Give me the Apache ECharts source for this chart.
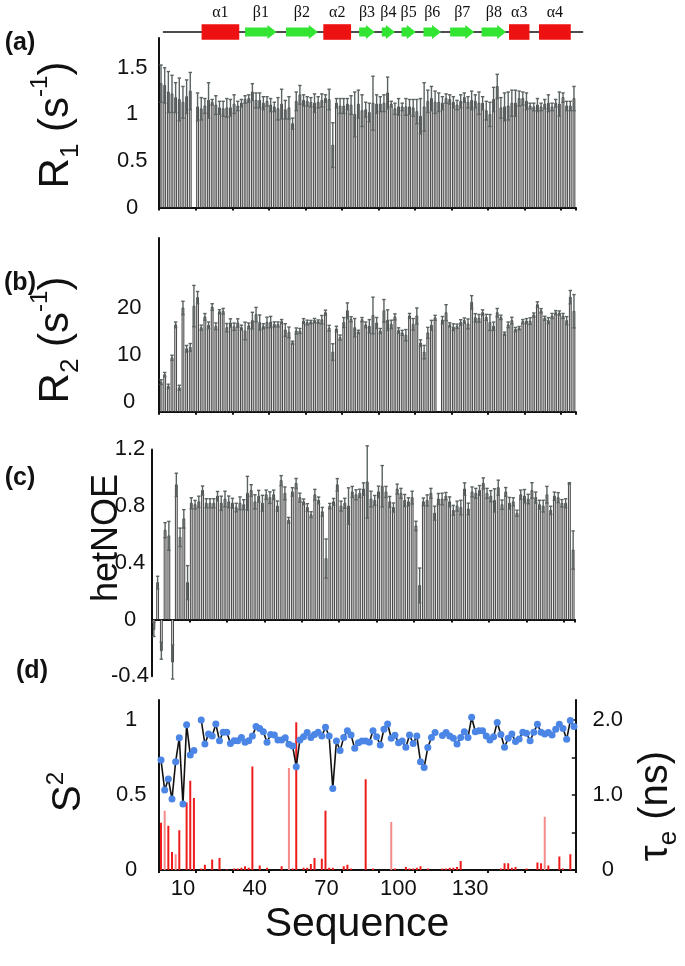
<!DOCTYPE html>
<html><head><meta charset="utf-8">
<script src="https://cdn.jsdelivr.net/npm/echarts@6/dist/echarts.min.js"></script>
<style>html,body{margin:0;padding:0;background:#fff}#c{width:685px;height:966px}</style>
</head><body><div id="c"></div><script>
// ---------- secondary structure ----------
const ssLabel = ['α1','β1','β2','α2','β3','β4','β5','β6','β7','β8','α3','α4'];
const ssType  = ['H','E','E','H','E','E','E','E','E','E','H','H'];
const ssStart = [11.6,23.5,34.7,44.9,54.7,60.9,66.3,72.3,79.6,88.2,95.7,103.9];
const ssEnd   = [21.9,32.1,43.4,52.5,59.0,64.5,70.2,77.1,86.2,94.9,101.3,112.6];
const ssBackbone = [1.0, 116.0];

// ---------- (a) R1 ----------
const r1 = [1.33,1.31,1.24,1.22,1.18,1.16,1.13,1.19,1.25,null,
1.08,1.06,1.09,1.15,1.13,1.10,1.07,1.06,1.07,1.07,
1.11,1.09,1.12,1.16,1.17,1.24,1.15,1.15,1.12,1.14,
1.10,1.08,1.06,1.11,1.05,1.07,0.90,1.14,1.21,1.15,
1.14,1.13,1.12,1.13,1.15,1.17,1.16,0.67,1.12,1.09,
1.09,1.11,1.10,1.00,1.11,1.04,1.05,1.02,1.12,1.11,
1.11,1.12,1.23,1.11,1.06,1.08,1.08,1.08,1.08,1.07,
1.03,0.98,1.08,1.14,1.17,1.13,1.13,1.12,1.17,1.16,
1.13,1.10,1.14,1.18,1.13,1.15,1.14,1.12,1.12,1.04,
1.00,1.16,1.30,1.07,1.08,1.09,1.12,1.12,1.17,1.17,
1.14,1.09,1.08,1.10,1.08,1.11,1.12,1.08,1.12,1.11,
1.18,1.09,1.09,1.17];
const r1Err = [.20,.19,.22,.20,.16,.23,.17,.18,.20,null,
.15,.12,.08,.19,.03,.10,.07,.08,.10,.09,
.10,.05,.04,.04,.04,.09,.08,.08,.07,.05,
.07,.05,.12,.16,.10,.12,.06,.10,.10,.06,
.05,.05,.10,.06,.07,.04,.11,.24,.05,.08,
.08,.06,.10,.24,.15,.17,.08,.10,.29,.10,
.08,.09,.17,.03,.06,.09,.04,.09,.08,.09,
.13,.19,.26,.12,.13,.12,.10,.07,.05,.05,
.06,.05,.07,.05,.06,.10,.07,.12,.07,.10,
.13,.13,.13,.11,.15,.15,.14,.14,.08,.07,
.09,.03,.04,.07,.04,.05,.09,.04,.04,.13,
.05,.05,.05,.13];

// ---------- (b) R2 ----------
const r2 = [4.3,5.9,3.4,9.5,16.5,3.1,20.1,11.4,11.7,20.5,
22.3,15.9,18.2,16.4,20.3,16.2,19.3,19.4,15.9,16.9,
16.1,16.9,15.9,15.2,16.3,17.4,18.7,17.0,16.2,17.0,
17.1,16.6,16.6,17.2,15.4,14.9,12.7,15.2,15.2,17.3,
17.0,17.1,17.4,17.2,17.6,19.1,15.8,10.7,15.6,13.8,
17.0,19.5,17.7,15.9,15.0,17.6,16.5,16.2,18.5,16.9,
15.2,19.5,17.5,16.6,18.2,15.3,14.8,14.3,18.4,16.6,
18.4,12.6,10.7,14.8,16.4,18.0,null,17.5,19.1,16.5,
16.0,16.2,17.0,17.4,16.7,21.3,18.0,17.9,19.1,18.1,
17.0,16.2,19.1,18.1,14.6,16.5,17.4,15.5,15.8,17.2,
17.3,17.3,18.6,20.8,19.5,17.9,17.4,18.4,19.1,19.0,
18.4,17.4,22.4,19.4];
const r2Err = [0.5,0.46,0.46,0.53,0.6,0.53,1.42,0.71,0.82,4.4,
1.3,0.53,0.71,0.71,0.71,0.71,0.43,0.6,0.89,0.89,
0.78,0.89,0.53,1.88,0.6,1.77,1.52,1.6,0.53,1.13,
1.2,0.53,0.53,0.43,1.35,1.13,0.32,0.64,0.53,0.53,
0.5,0.35,0.46,0.35,0.89,0.53,0.6,1.77,0.6,0.53,
1.06,1.67,0.53,1.95,0.35,0.46,0.6,1.42,3.9,1.17,
0.53,2.4,2.2,0.89,0.64,0.57,0.53,1.2,0.53,1.24,
1.7,0.71,1.42,1.17,1.06,0.53,null,0.78,1.7,0.43,
0.71,0.46,0.6,0.57,1.06,1.42,0.89,0.82,0.6,0.64,
1.7,0.89,0.89,0.46,0.35,0.6,0.71,0.46,0.35,0.43,
0.53,0.71,0.43,0.6,0.46,0.43,0.64,0.53,0.43,0.46,
0.53,0.85,1.42,3.55];

// ---------- (c) hetNOE ----------
const noe = [-0.07,0.26,-0.22,0.63,0.59,-0.30,0.95,0.58,0.71,0.26,
0.82,0.81,0.83,0.91,0.82,0.82,0.82,0.87,0.82,0.85,
0.83,0.82,0.79,0.82,0.81,0.89,0.91,0.83,0.87,0.82,
0.88,0.86,0.88,0.80,0.98,0.89,0.70,0.90,0.96,0.86,
0.83,0.79,0.74,0.88,0.84,0.76,0.43,0.80,0.83,0.95,
0.80,0.82,0.80,0.90,0.88,0.89,0.92,0.97,0.85,0.84,
0.90,0.94,0.90,0.83,0.79,0.92,0.89,0.84,0.83,0.86,
0.66,0.24,0.83,0.84,0.89,0.75,0.85,0.85,0.87,0.83,
0.77,0.80,0.79,0.92,0.78,0.90,0.89,0.91,0.96,0.89,
0.87,0.84,0.93,0.81,0.90,0.82,0.83,0.75,0.88,0.87,
0.85,0.91,0.86,0.81,0.80,0.88,0.77,0.87,0.86,0.82,
0.82,0.96,0.49];
const noeErr = [0.05,0.045,0.06,0.053,0.102,0.12,0.082,0.065,0.065,0.12,
0.039,0.03,0.04,0.032,0.032,0.032,0.032,0.033,0.05,0.055,
0.041,0.035,0.03,0.045,0.035,0.12,0.041,0.05,0.041,0.056,
0.033,0.041,0.033,0.036,0.035,0.045,0.02,0.03,0.035,0.031,
0.02,0.027,0.02,0.038,0.024,0.031,0.138,0.019,0.024,0.044,
0.035,0.035,0.129,0.039,0.035,0.029,0.044,0.255,0.055,0.035,
0.041,0.146,0.039,0.038,0.032,0.035,0.035,0.042,0.029,0.045,
0.033,0.123,0.027,0.039,0.035,0.049,0.039,0.041,0.026,0.035,
0.035,0.035,0.051,0.044,0.041,0.035,0.035,0.035,0.039,0.035,
0.039,0.082,0.053,0.033,0.031,0.041,0.029,0.021,0.033,0.047,
0.033,0.055,0.039,0.031,0.041,0.059,0.029,0.029,0.035,0.026,
0.032,0.005,0.135];

// ---------- (d) S2 and tau_e ----------
const s2 = [0.733,0.533,0.607,0.473,0.722,0.882,0.44,0.969,0.767,0.796,null,
1.0,0.84,0.907,0.893,0.973,0.862,0.918,0.918,0.844,0.862,
0.862,0.884,0.851,0.862,0.893,0.956,0.944,0.922,0.851,0.904,
0.9,0.867,0.867,0.882,0.838,0.827,0.689,0.867,0.889,0.916,
0.884,0.904,0.918,0.893,0.951,0.893,0.544,0.86,0.796,0.884,
0.929,0.9,0.811,0.849,0.86,0.86,0.851,0.929,0.889,0.833,
0.938,0.973,0.878,0.898,0.849,0.86,0.818,0.9,0.844,0.893,
0.722,0.684,0.816,0.884,0.916,null,
0.896,0.916,0.893,0.878,0.84,0.884,0.922,0.884,1.018,0.922,
0.929,0.929,0.893,0.867,0.889,0.984,0.904,0.818,0.878,0.907,
0.856,0.873,0.918,0.911,0.862,0.918,0.971,0.918,0.907,0.916,
0.9,0.938,0.971,0.944,0.871,0.996,0.956];
const tauE = [0.63,null,0.59,0.24,null,0.53,null,0.9,1.19,0.96,
null,0.02,0.07,null,0.14,null,0.16,null,0.01,null,
0.02,0.02,0.03,0.05,0.03,1.38,null,0.06,null,0.03,
null,null,null,0.05,null,null,0.02,1.97,null,0.03,
0.03,0.08,0.16,null,0.15,0.79,0.03,0.03,null,null,
0.05,0.07,0.02,null,null,null,1.21,null,0.02,null,
null,null,null,null,0.02,null,null,0.04,0.02,0.02,
0.03,0.05,null,0.02,null,null,null,0.02,0.02,0.03,
0.03,0.04,0.12,null,null,null,null,null,null,null,
null,null,null,0.02,0.09,0.09,0.03,0.04,null,null,
0.02,null,null,0.1,0.09,null,0.06,null,null,0.18,
0.02,null,0.21,null];
const tauEFaint = [null,0.79,null,null,0.21,null,null,null,null,null,
null,null,null,null,null,null,null,null,null,null,
null,null,null,null,null,null,null,null,null,null,
null,null,null,null,null,1.36,null,null,null,null,
null,null,null,null,null,null,null,null,null,null,
null,null,null,null,null,null,null,null,null,null,
null,null,null,0.64,null,null,null,null,null,null,
null,null,null,null,null,null,null,null,null,null,
null,null,null,null,null,null,null,null,null,null,
null,null,null,null,null,null,null,null,null,null,
null,null,null,null,null,0.71,null,null,null,null,
null,null,null,null];

// ---------- tick labels ----------
const seqTickLabels = [10,40,70,100,130];
const SEQ_MAX = 174.3;
const r1Ticks = [0,0.5,1,1.5];
const r2Ticks = [0,10,20];
const noeTicks = [-0.4,0,0.4,0.8,1.2];
const s2Ticks = [0,0.5,1];
const tauTicks = [0,1,2];
const tauMinorTicks = [0.5,1,1.5,2];

const F = '"Liberation Sans", Arial, Helvetica, sans-serif';
const N = r1.length;
const cats = Array.from({length: N}, (_, i) => String(i + 1));
const catsC = Array.from({length: noe.length}, (_, i) => String(i + 1));

function errData(vals, errs) {
  const out = [];
  vals.forEach((v, i) => { if (v != null) out.push([i, v, errs[i]]); });
  return out;
}
function barErrRender(base) {
  return function (params, api) {
    const x = api.value(0), v = api.value(1), e = api.value(2);
    const pB = api.coord([x, base]);
    const pV = api.coord([x, v]);
    const pH = api.coord([x, v + e]);
    const pL = api.coord([x, v - e]);
    const band = api.size([1, 0])[0];
    const bw = Math.max(1.5, band * 0.5);
    const cap = 1.7;
    return {
      type: 'group',
      children: [
        {type: 'rect', shape: {x: pV[0] - bw / 2, y: Math.min(pB[1], pV[1]), width: bw, height: Math.abs(pB[1] - pV[1])},
         style: {fill: '#dadada', stroke: '#111', lineWidth: 0.75}},
        {type: 'line', shape: {x1: pV[0], y1: pH[1], x2: pV[0], y2: pL[1]}, style: {stroke: '#5a6262', lineWidth: 1.4}},
        {type: 'line', shape: {x1: pV[0] - cap, y1: pH[1], x2: pV[0] + cap, y2: pH[1]}, style: {stroke: '#5a6262', lineWidth: 1.4}},
        {type: 'line', shape: {x1: pV[0] - cap, y1: pL[1], x2: pV[0] + cap, y2: pL[1]}, style: {stroke: '#5a6262', lineWidth: 1.4}}
      ]
    };
  };
}

const AX = {color: '#111', width: 2};
function xCat(gi, data, onZero) {
  return {type: 'category', gridIndex: gi, data: data, boundaryGap: true,
    axisLine: {onZero: onZero, lineStyle: AX},
    axisTick: {show: true, interval: 9, length: 3, lineStyle: {color: '#111', width: 2}},
    axisLabel: {show: false}, splitLine: {show: false}};
}
function yVal(gi, min, max, ticks, margin) {
  return {type: 'value', gridIndex: gi, min: min, max: max,
    axisLine: {show: true, lineStyle: AX}, axisTick: {show: false}, splitLine: {show: false},
    axisLabel: {customValues: ticks, fontSize: 22, color: '#111', fontFamily: F, align: 'center', margin: margin}};
}
const titleRich = (big, lh) => ({
  m: {fontSize: big, fontFamily: F, lineHeight: lh, fill: '#111'},
  s: {fontSize: 26, fontFamily: F, lineHeight: 26, verticalAlign: 'bottom', fill: '#111'},
  p: {fontSize: 24, fontFamily: F, lineHeight: 24, verticalAlign: 'top', fill: '#111'}
});

const chart = echarts.init(document.getElementById('c'), null, {renderer: 'canvas'});
const option = {
  animation: false,
  backgroundColor: '#fff',
  grid: [
    {left: 159.2, top: 12, width: 424, height: 40},
    {left: 159.2, top: 38, width: 416.6, height: 169.5},
    {left: 159.2, top: 238, width: 416.6, height: 173.7},
    {left: 152, top: 449.4, width: 423, height: 226.8},
    {left: 159.2, top: 700, width: 416.6, height: 170},
    {left: 159.1, top: 870, width: 416.9, height: 1}
  ],
  xAxis: [
    {type: 'value', gridIndex: 0, min: 0, max: 116, show: false},
    xCat(1, cats, true),
    xCat(2, cats, false),
    xCat(3, catsC, true),
    xCat(4, cats, true),
    {type: 'value', gridIndex: 5, min: 0, max: SEQ_MAX, axisLine: {show: false}, axisTick: {show: false}, splitLine: {show: false},
     axisLabel: {customValues: seqTickLabels, fontSize: 22, color: '#111', fontFamily: F, margin: 7}}
  ],
  yAxis: [
    {type: 'value', gridIndex: 0, min: 0, max: 1, show: false},
    yVal(1, 0, 1.82, r1Ticks, 27),
    yVal(2, -2, 35, r2Ticks, 30),
    yVal(3, -0.4, 1.2, noeTicks, 22),
    yVal(4, 0, 1.1333, s2Ticks, 28),
    {type: 'value', gridIndex: 4, min: 0, max: 2.2667, position: 'right',
     axisLine: {show: true, lineStyle: AX},
     axisTick: {show: true, inside: true, customValues: tauMinorTicks, length: 4, lineStyle: {color: '#111', width: 1.5}},
     splitLine: {show: false},
     axisLabel: {customValues: tauTicks, fontSize: 22, color: '#111', fontFamily: F, align: 'center', margin: 32,
       formatter: v => (v === 0 ? '0' : v.toFixed(1))}},
    {type: 'value', gridIndex: 5, show: false, min: 0, max: 1}
  ],
  series: [
    {type: 'line', xAxisIndex: 0, yAxisIndex: 0, data: [[ssBackbone[0], 0.5], [ssBackbone[1], 0.5]],
     symbol: 'none', lineStyle: {color: '#111', width: 1.6}, z: 2, silent: true},
    {type: 'custom', xAxisIndex: 0, yAxisIndex: 0, z: 3,
     data: ssStart.map((s, k) => [s, ssEnd[k], ssType[k] === 'H' ? 0 : 1]),
     renderItem: function (params, api) {
       const p0 = api.coord([api.value(0), 0.5]);
       const p1 = api.coord([api.value(1), 0.5]);
       const y = p0[1];
       const label = ssLabel[params.dataIndex];
       let shape;
       if (api.value(2) === 0) {
         shape = {type: 'rect', shape: {x: p0[0], y: y - 7.8, width: p1[0] - p0[0], height: 15.6}, style: {fill: '#ee1111'}};
       } else {
         const hl = 9, x0 = p0[0], x1 = p1[0];
         shape = {type: 'polygon', shape: {points: [[x0, y - 4.5], [x1 - hl, y - 4.5], [x1 - hl, y - 7], [x1, y], [x1 - hl, y + 7], [x1 - hl, y + 4.5], [x0, y + 4.5]]},
                  style: {fill: '#33e533'}};
       }
       return {type: 'group', children: [shape,
         {type: 'text', style: {text: label, x: (p0[0] + p1[0]) / 2, y: y - 19, align: 'center', verticalAlign: 'middle',
           fontSize: 16, fontFamily: '"Liberation Serif", "DejaVu Serif", serif', fill: '#111'}}]};
     }},
    {type: 'custom', xAxisIndex: 1, yAxisIndex: 1, data: errData(r1, r1Err), renderItem: barErrRender(0), encode: {x: 0, y: 1}},
    {type: 'custom', xAxisIndex: 2, yAxisIndex: 2, data: errData(r2, r2Err), renderItem: barErrRender(-2), encode: {x: 0, y: 1}},
    {type: 'custom', xAxisIndex: 3, yAxisIndex: 3, data: errData(noe, noeErr), renderItem: barErrRender(0), encode: {x: 0, y: 1}},
    {type: 'bar', xAxisIndex: 4, yAxisIndex: 5, data: tauE, barWidth: 2, barGap: '-100%', itemStyle: {color: '#ee1b1b'}, z: 2},
    {type: 'bar', xAxisIndex: 4, yAxisIndex: 5, data: tauEFaint, barWidth: 2, barGap: '-100%', itemStyle: {color: '#f58a8a'}, z: 2},
    {type: 'line', xAxisIndex: 4, yAxisIndex: 4, data: s2, connectNulls: false, symbol: 'circle', symbolSize: 7,
     showAllSymbol: true,
     itemStyle: {color: '#4b86e6'}, lineStyle: {color: '#111', width: 1.6}, z: 5}
  ],
  graphic: [
    {type: 'text', x: 20, y: 43, style: {text: '(a)', fontSize: 25, fontWeight: 'bold', fontFamily: F, fill: '#111', align: 'center', verticalAlign: 'middle'}},
    {type: 'text', x: 20, y: 283, style: {text: '(b)', fontSize: 25, fontWeight: 'bold', fontFamily: F, fill: '#111', align: 'center', verticalAlign: 'middle'}},
    {type: 'text', x: 20, y: 478, style: {text: '(c)', fontSize: 25, fontWeight: 'bold', fontFamily: F, fill: '#111', align: 'center', verticalAlign: 'middle'}},
    {type: 'text', x: 32, y: 671, style: {text: '(d)', fontSize: 25, fontWeight: 'bold', fontFamily: F, fill: '#111', align: 'center', verticalAlign: 'middle'}},
    {type: 'text', x: 56, y: 125, rotation: Math.PI / 2, style: {text: '{m|R}{s|1}{m| (s}{p|-1}{m|)}', align: 'center', verticalAlign: 'middle', fill: '#111', rich: titleRich(42, 56)}},
    {type: 'text', x: 56, y: 340, rotation: Math.PI / 2, style: {text: '{m|R}{s|2}{m| (s}{p|-1}{m|)}', align: 'center', verticalAlign: 'middle', fill: '#111', rich: titleRich(42, 56)}},
    {type: 'text', x: 107, y: 538, rotation: Math.PI / 2, style: {text: 'hetNOE', fontSize: 36, fontFamily: F, fill: '#111', align: 'center', verticalAlign: 'middle'}},
    {type: 'text', x: 69, y: 792, rotation: Math.PI / 2, style: {text: '{m|S}{p|2}', align: 'center', verticalAlign: 'middle', fill: '#111', rich: titleRich(40, 50)}},
    {type: 'text', x: 656, y: 806, rotation: Math.PI / 2, style: {text: '{m|τ}{s|e}{m| (ns)}', align: 'center', verticalAlign: 'middle', fill: '#111', rich: titleRich(40, 52)}},
    {type: 'text', x: 357, y: 925, style: {text: 'Sequence', fontSize: 41, fontFamily: F, fill: '#111', align: 'center', verticalAlign: 'middle'}}
  ]
};
chart.setOption(option);
</script></body></html>
